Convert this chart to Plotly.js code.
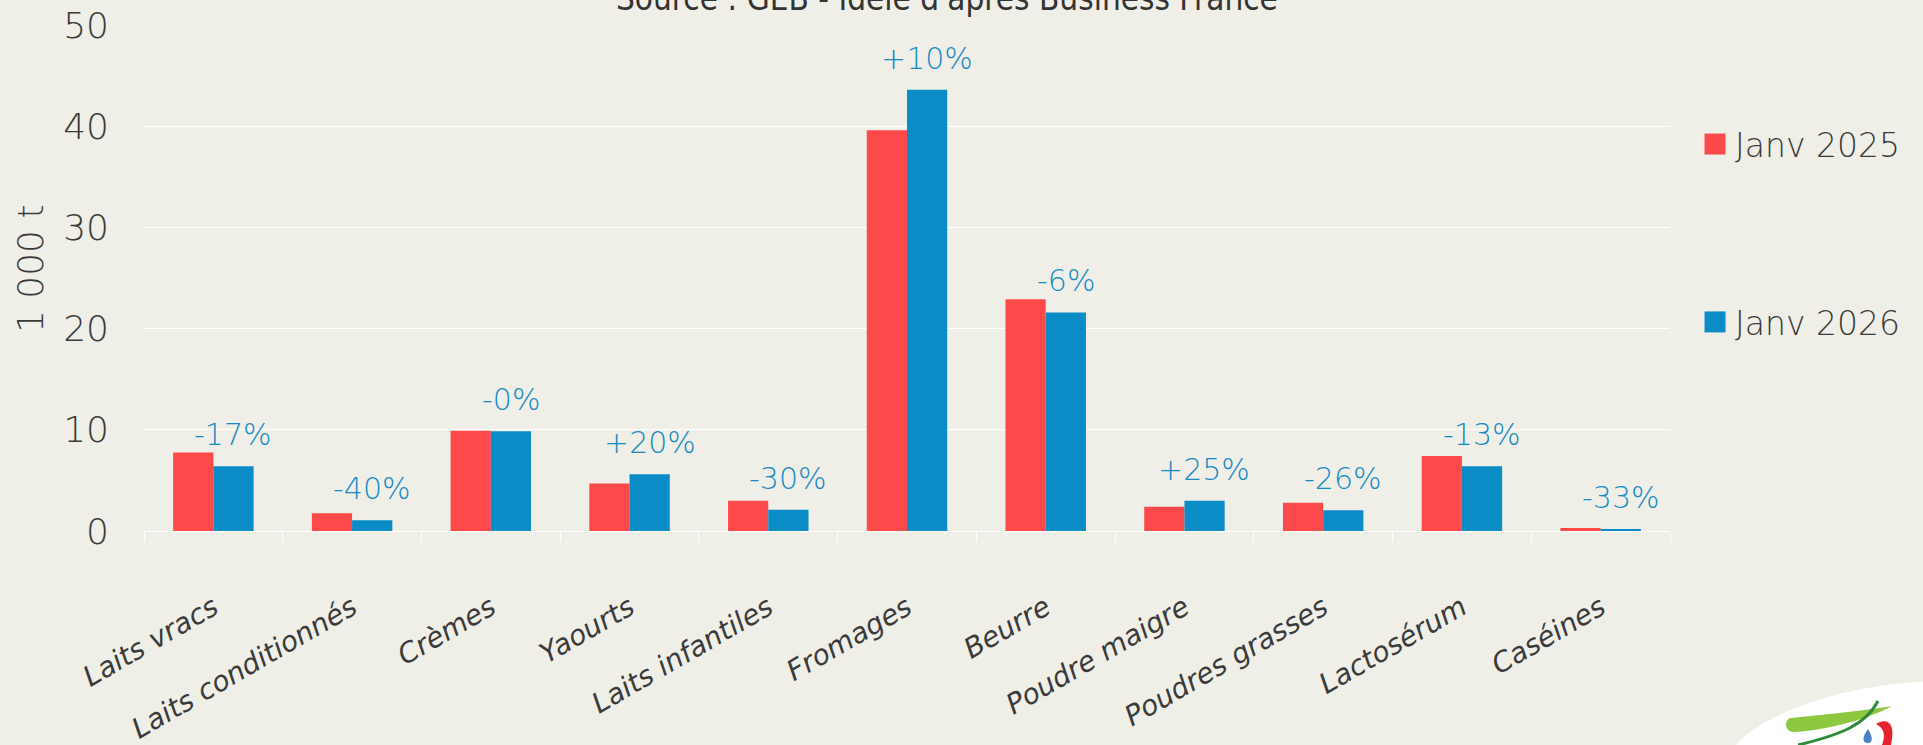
<!DOCTYPE html>
<html>
<head>
<meta charset="utf-8">
<script src="https://cdn.plot.ly/plotly-3.0.1.min.js"></script>
<style>html,body{margin:0;padding:0;background:#EFEFE8;}#chart{width:1923px;height:745px;}</style>
</head>
<body>
<div id="chart"></div>
<script>
const categories = ['Laits vracs','Laits conditionnés','Crèmes','Yaourts','Laits infantiles','Fromages','Beurre','Poudre maigre','Poudres grasses','Lactosérum','Caséines'];
const janv2025 = [7.75, 1.75, 9.9, 4.7, 3.0, 39.6, 22.9, 2.4, 2.8, 7.4, 0.3];
const janv2026 = [6.4, 1.05, 9.85, 5.6, 2.1, 43.6, 21.6, 3.0, 2.05, 6.4, 0.2];
const changes = ['-17%','-40%','-0%','+20%','-30%','+10%','-6%','+25%','-26%','-13%','-33%'];
const seriesNames = ['Janv 2025','Janv 2026'];
const yTicks = [0, 10, 20, 30, 40, 50];
const sourceText = "Source : GEB - Idele d'après Business France";
const yTitle = '1 000 t';

const W = 1923, H = 745;
const M = {l: 144, r: 253, t: 25, b: 214};
const RED = '#FE494B', BLUE = '#0A8CC6', LABEL = '#168AC4', TXT = '#3A3A3A', BG = '#EFEFE8';

// pixel -> paper helpers (decorative logo and title placement only)
const pw = W - M.l - M.r, ph = H - M.t - M.b;
const X = p => ((p - M.l) / pw).toFixed(4);
const Y = p => ((H - M.b - p) / ph).toFixed(4);
function path(pts){
  return pts.map(seg => {
    const c = seg[0]; const v = seg.slice(1);
    const out = [];
    for (let i = 0; i < v.length; i += 2) out.push(X(v[i]) + ',' + Y(v[i+1]));
    return c + out.join(' ');
  }).join(' ');
}

const traces = [
  {type: 'bar', name: seriesNames[0], x: categories, y: janv2025, marker: {color: RED}, legendgroup: 'a'},
  {type: 'bar', name: seriesNames[1], x: categories, y: janv2026, marker: {color: BLUE}, legendgroup: 'b'}
];

const annotations = categories.map((c, i) => ({
  x: c, y: janv2026[i], xref: 'x', yref: 'y', text: changes[i],
  showarrow: false, xshift: 20, yshift: 12, yanchor: 'bottom', xanchor: 'center',
  font: {family: 'DejaVu Sans', size: 30, color: LABEL, weight: 200}
}));
annotations.push({
  text: sourceText, xref: 'paper', yref: 'paper', x: +X(947), y: (H - M.b + 2) / ph,
  xanchor: 'center', yanchor: 'middle', showarrow: false,
  font: {family: 'DejaVu Sans Condensed', size: 33, color: '#333333'}
});
annotations.push({
  text: yTitle, xref: 'paper', yref: 'paper', x: +X(31), y: +Y(269),
  xanchor: 'center', yanchor: 'middle', textangle: -90, showarrow: false,
  font: {family: 'DejaVu Sans', size: 36, color: TXT, weight: 200}
});

const shapes = [
  {type: 'path', xref: 'paper', yref: 'paper', line: {width: 0}, fillcolor: '#FFFFFF', layer: 'above',
   path: path([['M',1736,745],['C',1748,728, 1800,698, 1880,686],['C',1900,683, 1915,682, 1923,682],['L',1923,745],['Z']])},
  {type: 'path', xref: 'paper', yref: 'paper', line: {width: 0}, fillcolor: '#8DC63F', layer: 'above',
   path: path([['M',1791,718],['C',1830,714, 1870,710, 1892,706],['C',1870,718, 1830,730, 1794,732],['C',1784,732, 1784,719, 1791,718],['Z']])},
  {type: 'path', xref: 'paper', yref: 'paper', line: {color: '#2E8B3A', width: 3}, layer: 'above',
   path: path([['M',1798,745],['C',1840,735, 1866,725, 1878,701]])},
  {type: 'path', xref: 'paper', yref: 'paper', line: {width: 0}, fillcolor: '#E3242B', layer: 'above',
   path: path([['M',1876,724],['C',1888,717, 1896,724, 1891,745],['L',1882,745],['C',1886,735, 1884,728, 1876,724],['Z']])},
  {type: 'path', xref: 'paper', yref: 'paper', line: {width: 0}, fillcolor: '#4A7FC4', layer: 'above',
   path: path([['M',1868,729],['C',1862,737, 1862,743, 1868,743],['C',1873,743, 1873,737, 1868,729],['Z']])}
];

const layout = {
  width: W, height: H,
  margin: M,
  paper_bgcolor: BG, plot_bgcolor: BG,
  barmode: 'group', bargap: 0.42, bargroupgap: 0,
  showlegend: true,
  legend: {x: 1.0164, xanchor: 'left', y: 0.82, yanchor: 'top', traceorder: 'grouped', tracegroupgap: 132,
           bgcolor: 'rgba(0,0,0,0)', font: {family: 'DejaVu Sans', size: 33, color: TXT, weight: 200}},
  xaxis: {type: 'category', tickangle: -30, ticks: 'outside', tickson: 'boundaries', ticklen: 10,
          tickcolor: '#FFFFFF', tickwidth: 1, showgrid: false, showline: false, zeroline: false,
          ticklabelstandoff: 54,
          tickfont: {family: 'DejaVu Sans', size: 28, color: TXT, style: 'italic', weight: 200}},
  yaxis: {range: [0, 50], tickvals: yTicks, ticktext: yTicks.map(String), showgrid: true, gridcolor: '#FFFFFF', gridwidth: 1,
          zeroline: true, zerolinecolor: '#FFFFFF', zerolinewidth: 1, showline: false, ticks: '',
          ticklabelstandoff: 34,
          tickfont: {family: 'DejaVu Sans', size: 36, color: TXT, weight: 200}},
  annotations: annotations,
  shapes: shapes
};

Plotly.newPlot('chart', traces, layout, {displayModeBar: false, staticPlot: true}).then(gd => {
  const fix = () => {
    document.querySelectorAll('#chart .legendpoints path').forEach(p => p.setAttribute('d', 'M10.5,10.5H-10.5V-10.5H10.5Z'));
  };
  fix();
  gd.on('plotly_afterplot', fix);
});
</script>
</body>
</html>
